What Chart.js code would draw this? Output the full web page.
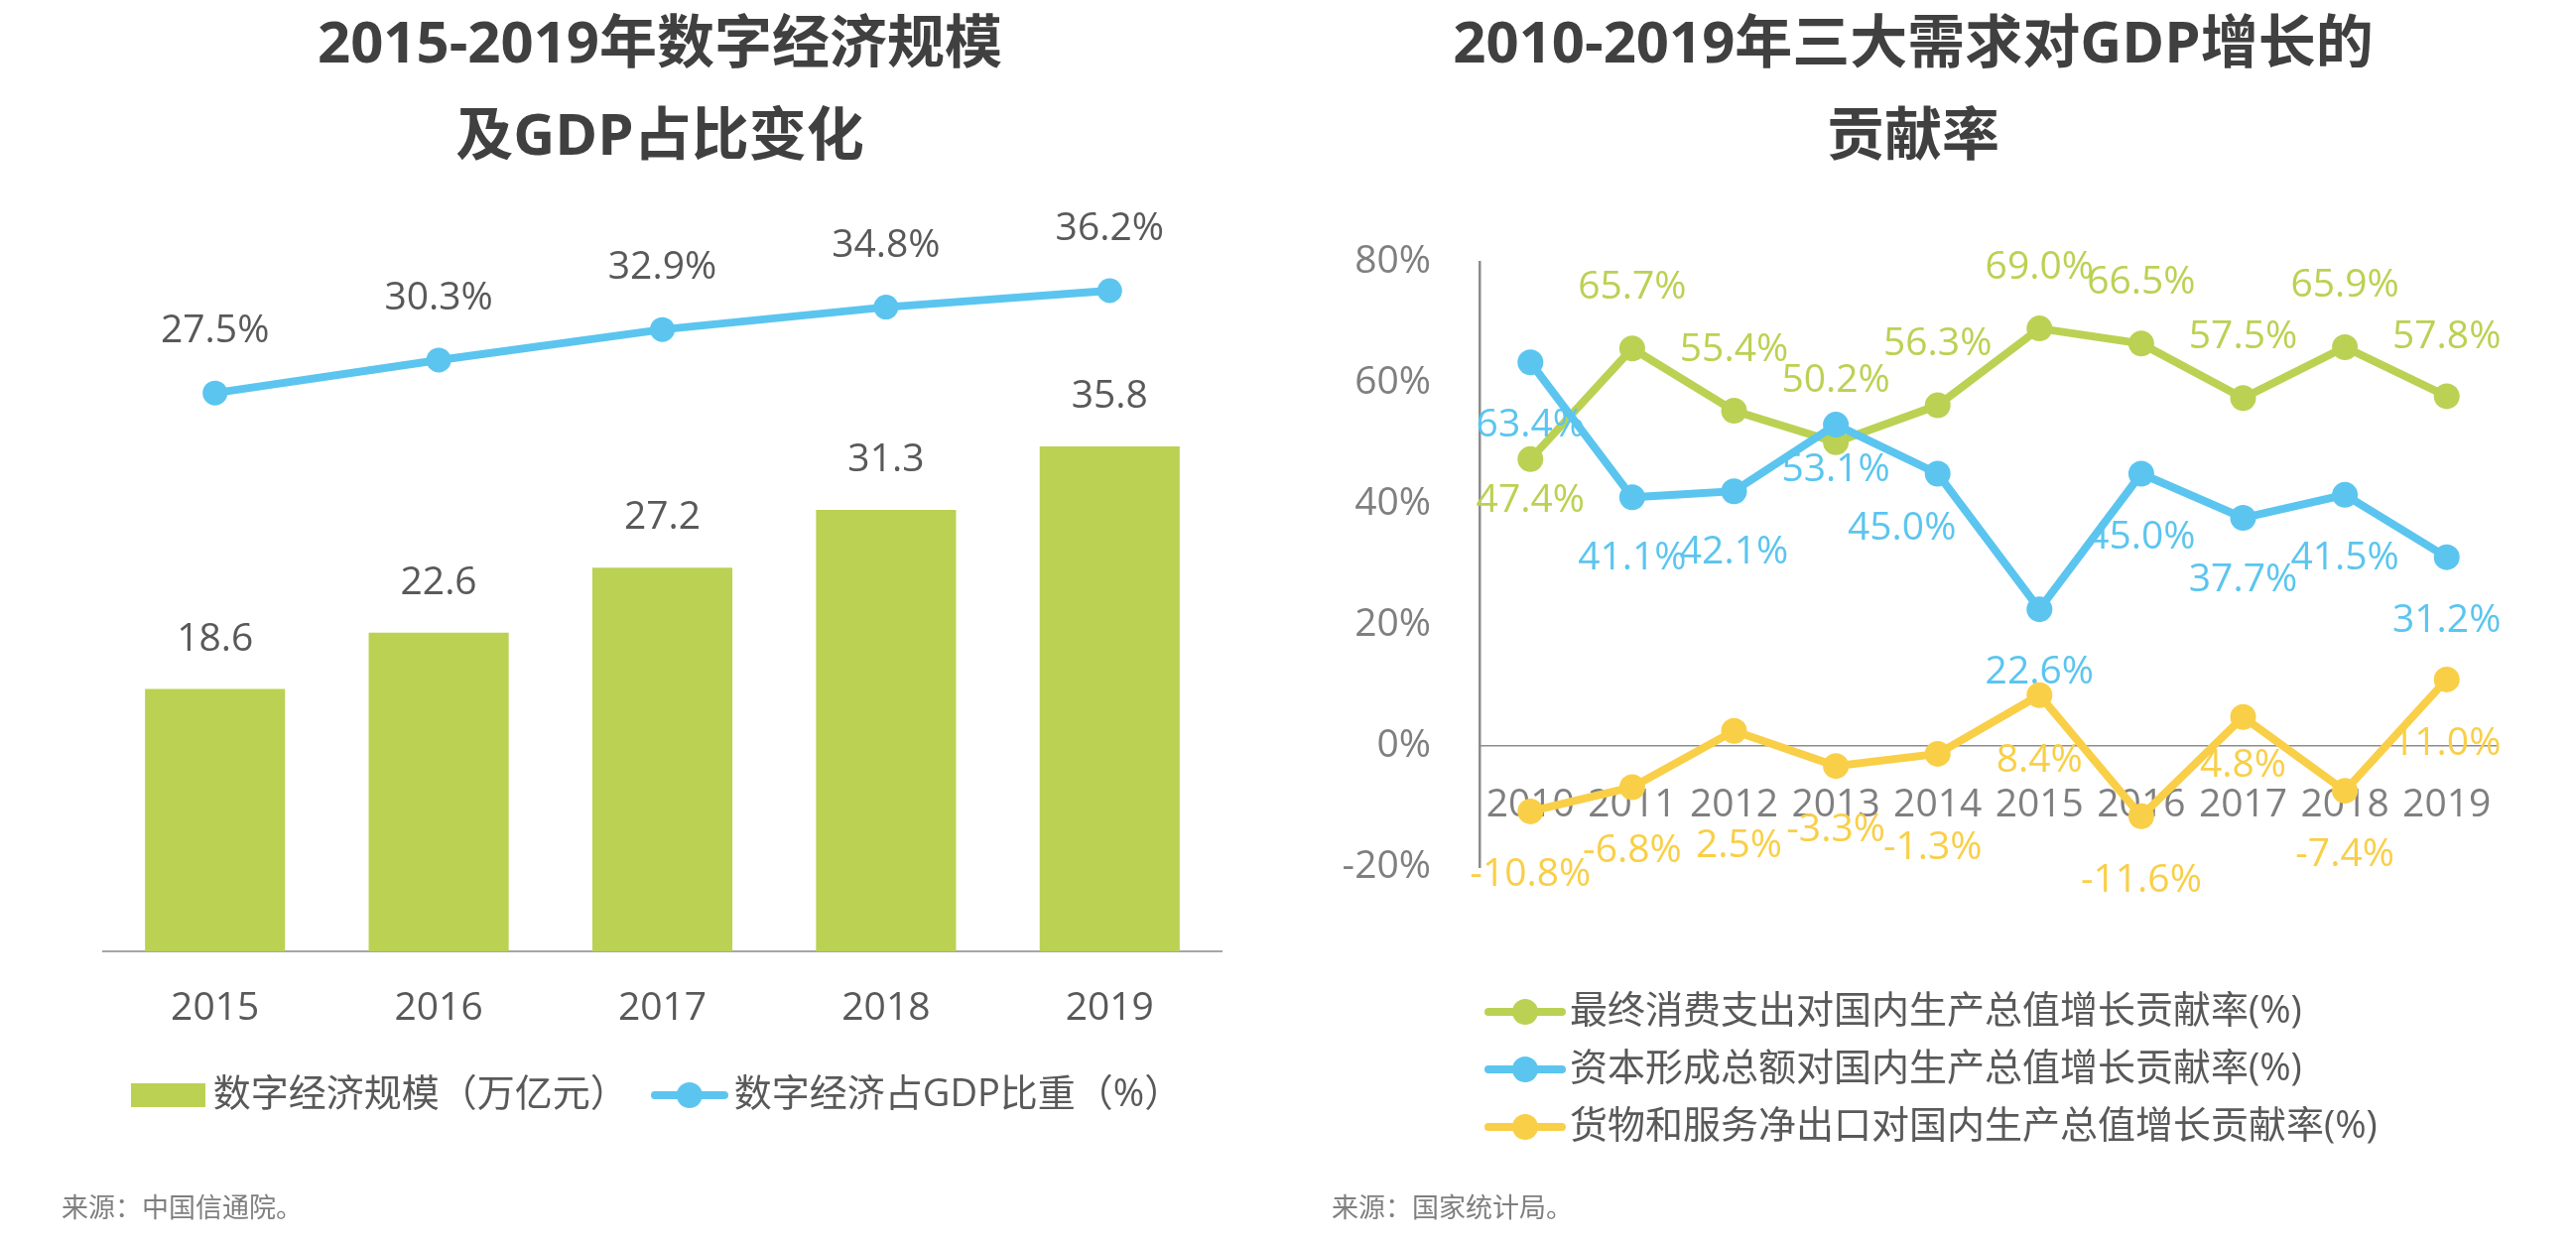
<!DOCTYPE html>
<html lang="zh-CN">
<head>
<meta charset="utf-8">
<title>数字经济规模与三大需求贡献率</title>
<script src="https://cdn.jsdelivr.net/npm/chart.js@4.4.1/dist/chart.umd.min.js"></script>
<style>
  html, body { margin: 0; padding: 0; background: #fff; }
  body {
    width: 2596px; height: 1254px; position: relative; overflow: hidden;
    font-family: "Open Sans", "Noto Sans CJK SC", sans-serif;
  }
  .title {
    position: absolute; top: -6px; text-align: center;
    font-weight: 700; font-size: 58px; line-height: 93px; color: #404040;
  }
  .source {
    position: absolute; top: 1199px;
    font-size: 27px; line-height: 36px; color: #7f7f7f;
  }
  canvas { position: absolute; top: 0; }
</style>
</head>
<body>
<div class="title" style="left:0;width:1330px;">2015-2019年数字经济规模<br>及GDP占比变化</div>
<div class="title" style="left:1300px;width:1256px;">2010-2019年三大需求对GDP增长的<br>贡献率</div>
<canvas id="scaleChart" width="1335" height="1254" style="left:0;"></canvas>
<canvas id="demandChart" width="1296" height="1254" style="left:1300px;"></canvas>
<div class="source" style="left:62px;">来源：中国信通院。</div>
<div class="source" style="left:1342px;">来源：国家统计局。</div>

<script>
"use strict";

// left chart data
const scaleYears = ['2015', '2016', '2017', '2018', '2019'];
const economyScale = [18.6, 22.6, 27.2, 31.3, 35.8];      // 万亿元
const economyShare = [27.5, 30.3, 32.9, 34.8, 36.2];      // % of GDP

// right chart data
const demandYears = ['2010', '2011', '2012', '2013', '2014', '2015', '2016', '2017', '2018', '2019'];
const consumptionRate = [47.4, 65.7, 55.4, 50.2, 56.3, 69.0, 66.5, 57.5, 65.9, 57.8];
const capitalRate = [63.4, 41.1, 42.1, 53.1, 45.0, 22.6, 45.0, 37.7, 41.5, 31.2];
const exportRate = [-10.8, -6.8, 2.5, -3.3, -1.3, 8.4, -11.6, 4.8, -7.4, 11.0];
const rateTicks = [-20, 0, 20, 40, 60, 80];

// label placement (pixels from the point), kept apart from the values
const consumptionLabelDy = [42, -61, -61, -62, -62, -61, -61, -61, -62, -60];
const capitalLabelDy = [64, 62, 62, 46, 55, 64, 64, 63, 64, 64];
const capitalLabelDx = [0, 0, 0, 0, -36, 0, 0, 0, 0, 0];
const exportLabelDy = [64, 64, 116, 65, 95, 66, 65, 49, 65, 65];
const exportLabelDx = [0, 0, 5, 0, -5, 0, 0, 0, 0, 0];

const GREEN = '#BBD153';
const BLUE = '#5BC5EF';
const YELLOW = '#F9CF48';
const TEXT = '#595959';
const AXIS_TEXT = '#7f7f7f';
const FONT_FAMILY = '"Open Sans", "Noto Sans CJK SC", sans-serif';

Chart.defaults.font.family = FONT_FAMILY;
Chart.defaults.color = TEXT;

/**
 * Draw value labels after each dataset so later series sit on top
 */
const valueLabelPlugin = {
    id: 'valueLabels',
    afterDatasetDraw(chart, args) {
        const ds = chart.data.datasets[args.index];
        const opts = ds.valueLabels;
        if (!opts) {
            return;
        }
        const ctx = chart.ctx;
        ctx.save();
        ctx.font = '39px ' + FONT_FAMILY;
        ctx.fillStyle = opts.color;
        ctx.textAlign = 'center';
        ctx.textBaseline = 'middle';
        args.meta.data.forEach((el, i) => {
            const dx = Array.isArray(opts.dx) ? opts.dx[i] : (opts.dx || 0);
            const dy = Array.isArray(opts.dy) ? opts.dy[i] : (opts.dy || 0);
            ctx.fillText(opts.format(ds.data[i]), el.x + dx, el.y + dy);
        });
        ctx.restore();
    }
};

// small canvases used as legend markers
function boxIcon(color, w, h) {
    const c = document.createElement('canvas');
    c.width = w;
    c.height = h;
    const g = c.getContext('2d');
    g.fillStyle = color;
    g.fillRect(0, 0, w, h);
    return c;
}

function lineIcon(color, w, r) {
    const c = document.createElement('canvas');
    c.width = w;
    c.height = r * 2 + 2;
    const g = c.getContext('2d');
    g.strokeStyle = color;
    g.lineWidth = 8;
    g.lineCap = 'round';
    g.beginPath();
    g.moveTo(4, r + 1);
    g.lineTo(w - 4, r + 1);
    g.stroke();
    g.fillStyle = color;
    g.beginPath();
    g.arc(w / 2, r + 1, r, 0, Math.PI * 2);
    g.fill();
    return c;
}

function iconLabels(icons) {
    return function(chart) {
        return Chart.defaults.plugins.legend.labels.generateLabels(chart)
            .map(item => Object.assign(item, { pointStyle: icons[item.datasetIndex] }));
    };
}

function fixedWidth(px) {
    return function(scale) { scale.width = px; };
}

function initializeScaleChart() {
    const ctx = document.getElementById('scaleChart');
    const icons = [boxIcon(GREEN, 75, 24), lineIcon(BLUE, 78, 13)];

    new Chart(ctx, {
        data: {
            labels: scaleYears,
            datasets: [
                {
                    type: 'bar',
                    label: '数字经济规模（万亿元）',
                    data: economyScale,
                    backgroundColor: GREEN,
                    yAxisID: 'y',
                    order: 1,
                    barPercentage: 0.626,
                    categoryPercentage: 1,
                    valueLabels: { color: TEXT, dy: -50, format: v => v.toFixed(1) }
                },
                {
                    type: 'line',
                    label: '数字经济占GDP比重（%）',
                    data: economyShare,
                    borderColor: BLUE,
                    backgroundColor: BLUE,
                    borderWidth: 8,
                    pointRadius: 12.5,
                    pointBorderWidth: 0,
                    pointBackgroundColor: BLUE,
                    tension: 0,
                    yAxisID: 'y1',
                    order: 0,
                    valueLabels: { color: TEXT, dy: -62, format: v => v.toFixed(1) + '%' }
                }
            ]
        },
        options: {
            responsive: false,
            devicePixelRatio: 1,
            animation: false,
            events: [],
            layout: { padding: { top: 248, bottom: 121, left: 0, right: 0 } },
            plugins: {
                legend: {
                    position: 'bottom',
                    labels: {
                        usePointStyle: true,
                        pointStyleWidth: 52,
                        padding: 36,
                        color: TEXT,
                        font: { size: 38 },
                        generateLabels: iconLabels(icons),
                        sort: (a, b) => a.datasetIndex - b.datasetIndex
                    }
                },
                tooltip: { enabled: false }
            },
            scales: {
                x: {
                    grid: { display: false },
                    border: { display: true, color: '#a6a6a6', width: 2 },
                    ticks: { color: TEXT, font: { size: 39 }, padding: 26 },
                    afterFit: function(scale) { scale.height = 90; }
                },
                y: {
                    min: 0,
                    max: 50,
                    position: 'left',
                    grid: { display: false },
                    border: { display: false },
                    ticks: { display: false },
                    afterFit: fixedWidth(104)
                },
                y1: {
                    min: -20,
                    max: 40,
                    position: 'right',
                    grid: { display: false },
                    border: { display: false },
                    ticks: { display: false },
                    afterFit: fixedWidth(104)
                }
            }
        },
        plugins: [valueLabelPlugin]
    });
}

function initializeDemandChart() {
    const ctx = document.getElementById('demandChart');
    const icons = [lineIcon(GREEN, 82, 13), lineIcon(BLUE, 82, 13), lineIcon(YELLOW, 82, 13)];

    const series = (label, data, color, order, dx, dy) => ({
        label: label,
        data: data,
        borderColor: color,
        backgroundColor: color,
        borderWidth: 8,
        pointRadius: 13,
        pointBorderWidth: 0,
        pointBackgroundColor: color,
        tension: 0,
        order: order,
        valueLabels: { color: color, dx: dx, dy: dy, format: v => v.toFixed(1) + '%' }
    });

    new Chart(ctx, {
        type: 'line',
        data: {
            labels: demandYears,
            datasets: [
                series('最终消费支出对国内生产总值增长贡献率(%)', consumptionRate, GREEN, 3, 0, consumptionLabelDy),
                series('资本形成总额对国内生产总值增长贡献率(%)', capitalRate, BLUE, 2, capitalLabelDx, capitalLabelDy),
                series('货物和服务净出口对国内生产总值增长贡献率(%)', exportRate, YELLOW, 1, exportLabelDx, exportLabelDy)
            ]
        },
        options: {
            responsive: false,
            devicePixelRatio: 1,
            animation: false,
            events: [],
            layout: { padding: { top: 264, bottom: 89, left: 0, right: 79 } },
            plugins: {
                legend: {
                    position: 'bottom',
                    align: 'start',
                    fullSize: false,
                    title: { display: true, text: ' ', font: { size: 10 }, padding: { top: 95, bottom: 0 } },
                    labels: {
                        usePointStyle: true,
                        pointStyleWidth: 52,
                        padding: 20,
                        color: TEXT,
                        font: { size: 38 },
                        generateLabels: iconLabels(icons),
                        sort: (a, b) => a.datasetIndex - b.datasetIndex
                    }
                },
                tooltip: { enabled: false }
            },
            scales: {
                x: {
                    position: { y: 0 },
                    offset: true,
                    grid: { display: false },
                    border: { display: true, color: '#8c8c8c', width: 1.5 },
                    ticks: { color: AXIS_TEXT, font: { size: 39 }, padding: 28 }
                },
                y: {
                    min: -20,
                    max: 80,
                    grid: { display: false },
                    border: { display: true, color: '#8c8c8c', width: 2.5 },
                    ticks: {
                        color: AXIS_TEXT,
                        font: { size: 39 },
                        padding: 41,
                        callback: value => value + '%'
                    },
                    afterBuildTicks: function(scale) {
                        scale.ticks = rateTicks.map(v => ({ value: v }));
                    },
                    afterFit: fixedWidth(191)
                }
            }
        },
        plugins: [valueLabelPlugin]
    });
}

initializeScaleChart();
initializeDemandChart();
</script>
</body>
</html>
